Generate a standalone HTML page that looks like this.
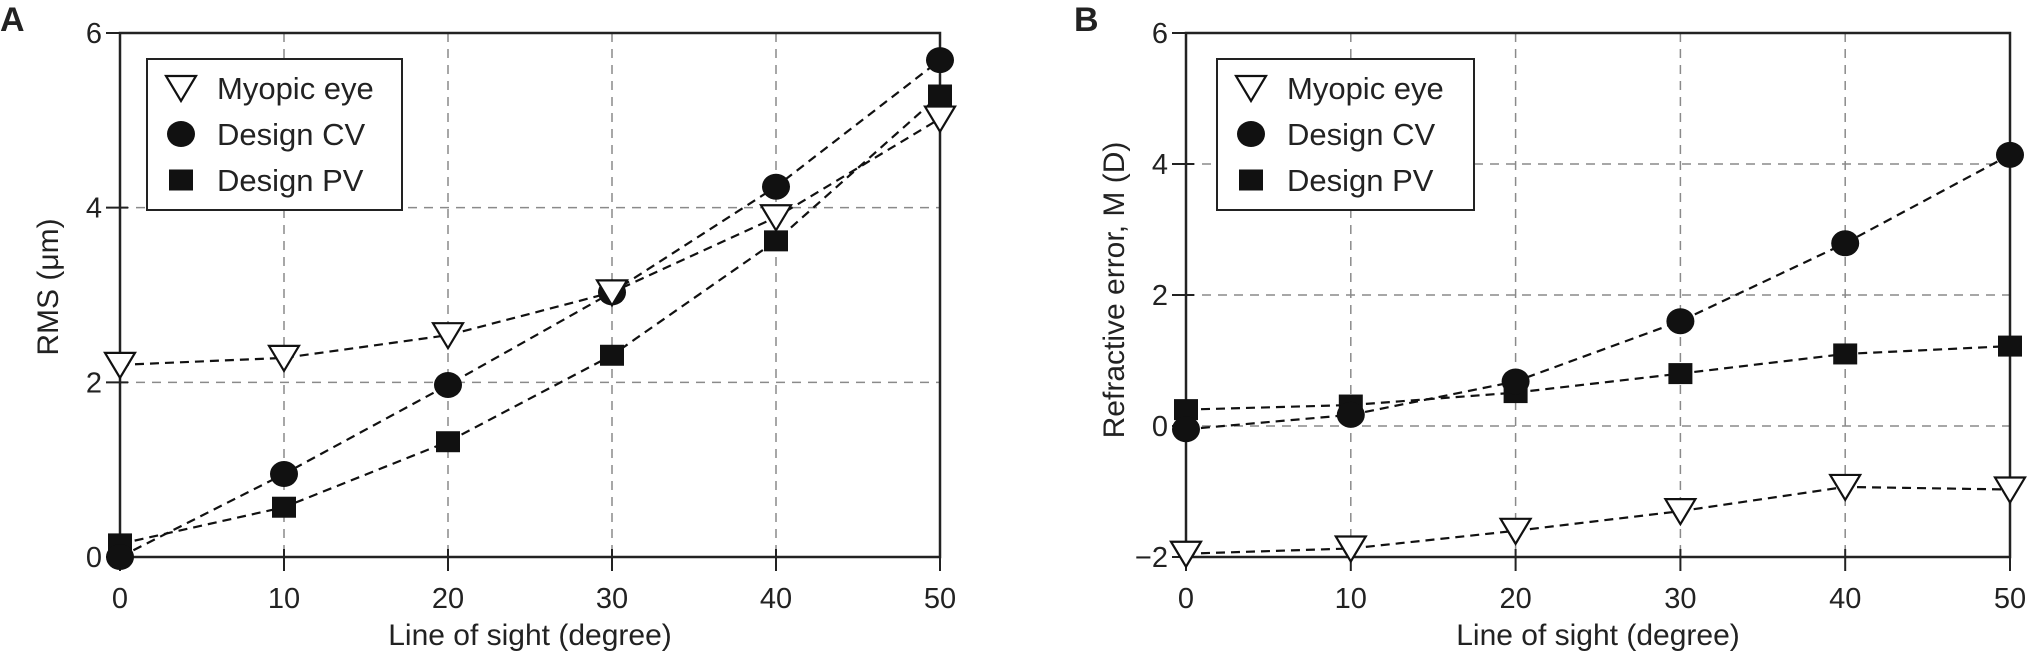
<!DOCTYPE html>
<html><head><meta charset="utf-8"><style>
html,body{margin:0;padding:0;background:#fff;}
svg{display:block;font-family:"Liberation Sans",Arial,sans-serif;}
</style></head><body>
<svg id="chart" width="2027" height="658" viewBox="0 0 2027 658"></svg>
<script>
const xCategories=[0,10,20,30,40,50];
const xTicks=[0,10,20,30,40,50];
const seriesNames=["Myopic eye","Design CV","Design PV"];
const aTicks=[0,2,4,6];
const aMyopic=[2.2,2.28,2.54,3.03,3.89,5.02];
const aCV=[0,0.95,1.97,3.03,4.24,5.69];
const aPV=[0.15,0.57,1.32,2.31,3.62,5.29];
const bTicks=[-2,0,2,4,6];
const bMyopic=[-1.95,-1.87,-1.6,-1.3,-0.93,-0.97];
const bCV=[-0.05,0.17,0.68,1.6,2.79,4.14];
const bPV=[0.25,0.32,0.51,0.8,1.1,1.22];

const NS="http://www.w3.org/2000/svg";
const svg=document.getElementById('chart');
function mk(tag,attrs,parent){const e=document.createElementNS(NS,tag);for(const k in attrs)e.setAttribute(k,attrs[k]);(parent||svg).appendChild(e);return e;}

function marker(g,type,cx,cy,s){
  let e;
  if(type===0){e=mk('polygon',{points:`${cx-15*s},${cy-12*s} ${cx+15*s},${cy-12*s} ${cx},${cy+13*s}`,fill:'#fff',stroke:'#111','stroke-width':2.2},g);}
  else if(type===1){e=mk('ellipse',{cx:cx,cy:cy,rx:14*s,ry:13*s,fill:'#111'},g);}
  else{e=mk('rect',{x:cx-12*s,y:cy-10.5*s,width:24*s,height:21*s,fill:'#111'},g);}
  return e;
}

function panel(cfg){
  const g=mk('g',{});
  
  
  const L=cfg.left,R=cfg.right,T=33,B=557;
  const ymin=cfg.ticks[0],ymax=cfg.ticks[cfg.ticks.length-1];
  const xs=v=>L+(v-0)/50*(R-L);
  const ys=v=>B-(v-ymin)/(ymax-ymin)*(B-T);
  // grid
  xTicks.forEach(t=>{const l=mk('line',{x1:xs(t),x2:xs(t),y1:T,y2:B,stroke:'#8a8a8a','stroke-width':1.5,'stroke-dasharray':'9 7'},g);
    });
  cfg.ticks.forEach(t=>{const l=mk('line',{x1:L,x2:R,y1:ys(t),y2:ys(t),stroke:'#8a8a8a','stroke-width':1.5,'stroke-dasharray':'9 7'},g);
    });
  // ticks
  xTicks.forEach(t=>{mk('line',{x1:xs(t),x2:xs(t),y1:B-8,y2:B+14,stroke:'#222','stroke-width':2},g);
    const tx=mk('text',{x:xs(t),y:B+51,'font-size':29,'text-anchor':'middle',fill:'#222'},g);tx.textContent=t;
    });
  cfg.ticks.forEach(t=>{mk('line',{x1:L-14,x2:L+8,y1:ys(t),y2:ys(t),stroke:'#222','stroke-width':2},g);
    const tx=mk('text',{x:L-18,y:ys(t)+10,'font-size':29,'text-anchor':'end',fill:'#222'},g);tx.textContent=(t<0?'\u2212'+(-t):t);
    });
  // frame
  const f=mk('rect',{x:L,y:T,width:R-L,height:B-T,fill:'none',stroke:'#222','stroke-width':2.5},g);
  
  // series lines
  cfg.series.forEach((vals,si)=>{
    const pts=xCategories.map((c,i)=>xs(c)+','+ys(vals[i])).join(' ');
    const pl=mk('polyline',{points:pts,fill:'none',stroke:'#111','stroke-width':2.2,'stroke-dasharray':'9 6'},g);
    
  });
  // markers (draw PV, CV, then myopic order as in figure)
  [2,1,0].forEach(si=>{const vals=cfg.series[si];
    xCategories.forEach((c,i)=>{const m=marker(g,si,xs(c),ys(vals[i]),1);
      });});
  // legend
  const lg=mk('g',{},g);
  
  mk('rect',{x:cfg.legX,y:59,width:cfg.legW,height:151,fill:'#fff',stroke:'#222','stroke-width':2},lg);
  seriesNames.forEach((n,i)=>{const cy=88+i*46;
    marker(lg,i,cfg.legX+34,cy,1);
    const tx=mk('text',{x:cfg.legX+70,y:cy+11,'font-size':31,fill:'#222'},lg);tx.textContent=n;
    });
  // axis titles
  const xt=mk('text',{x:(L+R)/2,y:645,'font-size':30,'text-anchor':'middle',fill:'#222'},g);xt.textContent='Line of sight (degree)';
  
  const yt=mk('text',{x:0,y:0,'font-size':30,'text-anchor':'middle',fill:'#222',transform:`translate(${cfg.ytx},${cfg.yty}) rotate(-90)`},g);yt.textContent=cfg.ytitle;
  
  const pl=mk('text',{x:cfg.lblX,y:31,'font-size':34,'font-weight':'bold',fill:'#222'},g);pl.textContent=cfg.label;
  
}
panel({name:'panel-a',left:120,right:940,ticks:aTicks,series:[aMyopic,aCV,aPV],legX:147,legW:255,ytitle:'RMS (\u03bcm)',ytx:58,yty:287,label:'A',lblX:0});
panel({name:'panel-b',left:1186,right:2010,ticks:bTicks,series:[bMyopic,bCV,bPV],legX:1217,legW:257,ytitle:'Refractive error, M (D)',ytx:1124,yty:290,label:'B',lblX:1074});
</script>
</body></html>
